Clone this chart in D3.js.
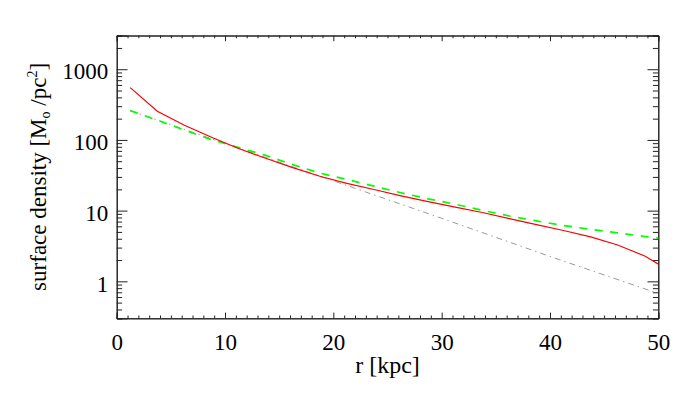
<!DOCTYPE html>
<html>
<head>
<meta charset="utf-8">
<script src="https://cdn.jsdelivr.net/npm/d3@7"></script>
<style>
  body { margin: 0; background: #fff; }
  text { font-family: "Liberation Serif", "Times New Roman", serif; fill: #000; }
</style>
</head>
<body>
<div id="chart"></div>
<script>
// radius bins [kpc]
var rBins = [1.25, 3.75, 6.25, 8.75, 11.25, 13.75, 16.25, 18.75, 21.25, 23.75,
             26.25, 28.75, 31.25, 33.75, 36.25, 38.75, 41.25, 43.75, 46.25, 48.75, 51.25];
// measured profile (red, solid)
var sigmaData = [550, 255, 161, 109, 75.5, 55, 40.5, 30.6, 24.3, 19.9,
                 16.2, 13.4, 11.2, 9.4, 7.7, 6.33, 5.23, 4.26, 3.27, 2.28, 1.35];
// fit (green, dashed)
var sigmaFit = [260, 190, 138, 101, 78, 60.5, 44.7, 34.0, 27.6, 22.2,
                17.9, 14.7, 12.3, 10.1, 8.4, 7.15, 6.15, 5.45, 4.84, 4.31, 3.85];
// exponential disc (grey, dash-dot)
var rDisc = [1.25, 10, 20, 30, 40, 49.85];
var sigmaDisc = [260, 89, 26.4, 7.8, 2.25, 0.686];

var xMajor = [0, 10, 20, 30, 40, 50];
var yMajor = [1, 10, 100, 1000];
var yMajorLabels = ["1", "10", "100", "1000"];

var W = 692, H = 393;
var pLeft = 116.7, pRight = 658.3, pTop = 35.5, pBottom = 318.3;

var svg = d3.select("#chart").append("svg")
    .attr("width", W)
    .attr("height", H);

var x = d3.scaleLinear().domain([0, 50]).range([pLeft, pRight]);
var y = d3.scaleLog().domain([0.3, 3000]).range([pBottom, pTop]);

svg.append("clipPath").attr("id", "clip")
  .append("rect")
    .attr("x", pLeft).attr("y", pTop)
    .attr("width", pRight - pLeft).attr("height", pBottom - pTop);

var xMinor = d3.range(0, 51, 1).filter(function(d) { return d % 10 != 0; });
var yMinor = y.ticks().filter(function(d) { return yMajor.indexOf(d) == -1; });

var xLenMaj = 5.7, xLenMin = 2.8, yLenMaj = 10.8, yLenMin = 5.4;

function styleAxis(g) {
    g.selectAll("path").attr("stroke", "#222").attr("stroke-width", 1);
    g.selectAll("line").attr("stroke", "#222").attr("stroke-width", 1);
    g.selectAll("text")
        .style("font-family", '"Liberation Serif", serif')
        .style("font-size", "23px")
        .attr("fill", "#000");
}

// bottom
svg.append("g").attr("transform", "translate(0," + pBottom + ")")
    .call(d3.axisBottom(x).tickValues(xMinor).tickSize(-xLenMin).tickFormat(""))
    .call(styleAxis);
svg.append("g").attr("transform", "translate(0," + pBottom + ")")
    .call(d3.axisBottom(x).tickValues(xMajor).tickSize(-xLenMaj).tickPadding(15.4)
        .tickFormat(d3.format("d")))
    .call(styleAxis);
// top
svg.append("g").attr("transform", "translate(0," + pTop + ")")
    .call(d3.axisTop(x).tickValues(xMinor).tickSize(-xLenMin).tickFormat(""))
    .call(styleAxis);
svg.append("g").attr("transform", "translate(0," + pTop + ")")
    .call(d3.axisTop(x).tickValues(xMajor).tickSize(-xLenMaj).tickFormat(""))
    .call(styleAxis);
// left
svg.append("g").attr("transform", "translate(" + pLeft + ",0)")
    .call(d3.axisLeft(y).tickValues(yMinor).tickSize(-yLenMin).tickFormat(""))
    .call(styleAxis);
var yAxisG = svg.append("g").attr("transform", "translate(" + pLeft + ",0)")
    .call(d3.axisLeft(y).tickValues(yMajor).tickSize(-yLenMaj).tickPadding(8.4)
        .tickFormat(function(d, i) { return yMajorLabels[i]; }))
    .call(styleAxis);
yAxisG.selectAll("text").attr("dy", "0.42em");
// right
svg.append("g").attr("transform", "translate(" + pRight + ",0)")
    .call(d3.axisRight(y).tickValues(yMinor).tickSize(-yLenMin).tickFormat(""))
    .call(styleAxis);
svg.append("g").attr("transform", "translate(" + pRight + ",0)")
    .call(d3.axisRight(y).tickValues(yMajor).tickSize(-yLenMaj).tickFormat(""))
    .call(styleAxis);

var plot = svg.append("g").attr("clip-path", "url(#clip)");

var line = d3.line()
    .x(function(d) { return x(d[0]); })
    .y(function(d) { return y(d[1]); });

plot.append("path")
    .datum(d3.zip(rDisc, sigmaDisc))
    .attr("d", line)
    .attr("fill", "none")
    .attr("stroke", "#9a9a9a")
    .attr("stroke-width", 1)
    .attr("stroke-dasharray", "6,4,1.5,4");

plot.append("path")
    .datum(d3.zip(rBins, sigmaFit))
    .attr("d", line)
    .attr("fill", "none")
    .attr("stroke", "#00ff00")
    .attr("stroke-width", 1.7)
    .attr("stroke-dasharray", "8,7.5");

plot.append("path")
    .datum(d3.zip(rBins, sigmaData))
    .attr("d", line)
    .attr("fill", "none")
    .attr("stroke", "#ff0000")
    .attr("stroke-width", 1.2);

// axis titles
svg.append("text")
    .attr("x", (pLeft + pRight) / 2)
    .attr("y", 373)
    .attr("text-anchor", "middle")
    .style("font-size", "24px")
    .text("r [kpc]");

var yt = svg.append("text")
    .attr("transform", "translate(46," + ((pTop + pBottom) / 2) + ") rotate(-90)")
    .attr("text-anchor", "middle")
    .style("font-size", "23px");
yt.append("tspan").text("surface density [M");
yt.append("tspan").attr("dy", 4).style("font-size", "14px").text("o");
yt.append("tspan").attr("dy", -4).text(" /pc");
yt.append("tspan").attr("dy", -9).style("font-size", "14px").text("2");
yt.append("tspan").attr("dy", 9).text("]");
</script>
</body>
</html>
